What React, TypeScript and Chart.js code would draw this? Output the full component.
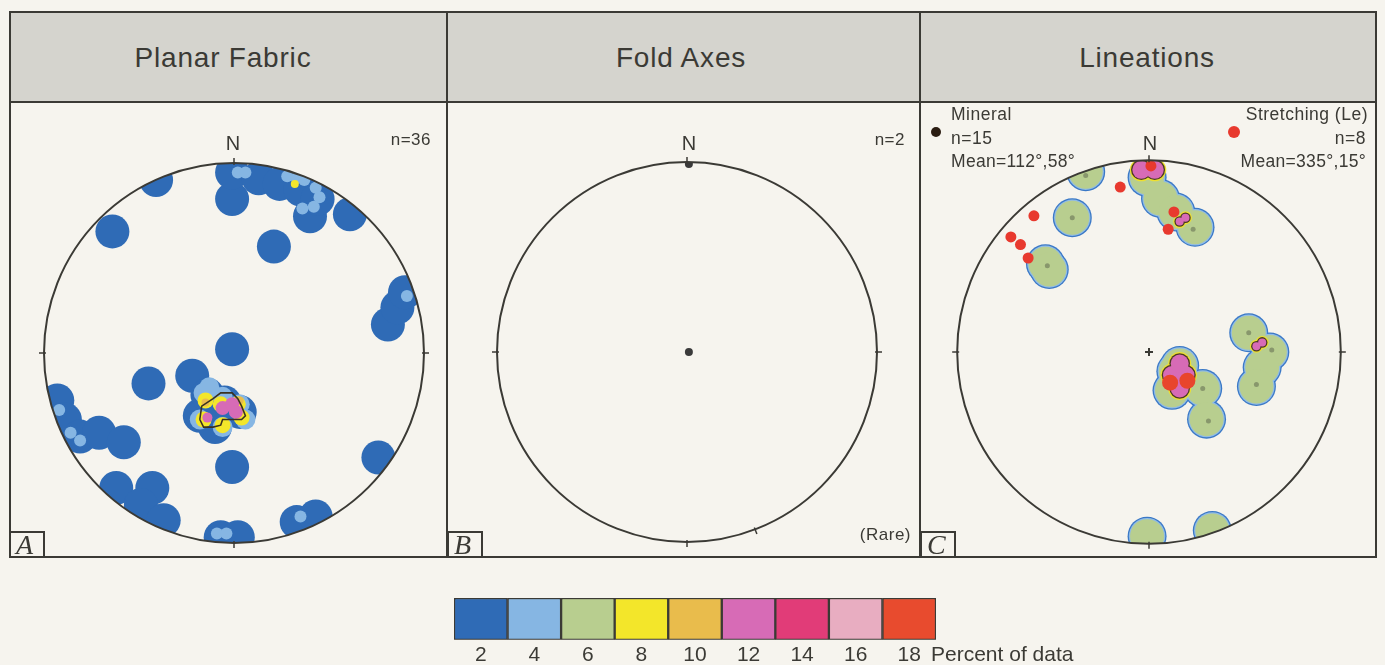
import React, { useEffect, useRef } from "react";
import { Chart, registerables } from "chart.js";

Chart.register(...registerables);

type P = [number, number];

// All stereonet positions are in net units: x = East, y = North, primitive circle radius = 1.

// ---------- Panel A: Planar fabric (poles), n = 36 ----------
const A_CONTOUR_2: P[] = [
  [-0.64, 0.64], [0.21, 0.56], [-0.01, 0.02], [-0.45, -0.16], [-0.01, -0.6], [0.76, -0.55],
  [0.81, 0.15], [0.86, 0.24], [0.9, 0.32], [-0.01, 0.81], [-0.01, 0.95], [-0.41, 0.91],
  [0.13, 0.92], [0.24, 0.89], [0.35, 0.86], [0.4, 0.72], [0.44, 0.81], [0.61, 0.73],
  [-0.93, -0.25], [-0.89, -0.35], [-0.81, -0.44], [-0.71, -0.42], [-0.58, -0.47],
  [-0.62, -0.71], [-0.43, -0.71], [-0.49, -0.8], [-0.37, -0.88], [-0.07, -0.97], [0.02, -0.97],
  [0.33, -0.89], [0.43, -0.86], [-0.22, -0.12], [-0.18, -0.33], [-0.05, -0.26], [0.03, -0.31],
  [-0.1, -0.39], [-0.14, -0.22],
];
const A_CONTOUR_4_CORE: P[] = [
  [-0.16, -0.21], [-0.18, -0.35], [-0.06, -0.23], [0.03, -0.27], [0.06, -0.35], [-0.06, -0.39], [-0.13, -0.18],
];
const A_CONTOUR_4_SPOTS: P[] = [
  [0.02, 0.95], [0.06, 0.95], [0.28, 0.93], [0.33, 0.92], [0.37, 0.91], [0.43, 0.87], [0.45, 0.82],
  [0.42, 0.77], [0.36, 0.76], [0.91, 0.3], [-0.92, -0.3], [-0.86, -0.42], [-0.81, -0.46],
  [-0.09, -0.95], [-0.04, -0.95], [0.35, -0.86],
];
const A_CONTOUR_8: P[] = [
  [-0.15, -0.25], [-0.16, -0.35], [-0.07, -0.27], [0.02, -0.27], [0.04, -0.34], [-0.06, -0.38],
];
const A_CONTOUR_8_SPOT: P[] = [[0.32, 0.89]];
const A_CONTOUR_10: P[] = [[-0.15, -0.26], [0.03, -0.25]];
const A_CONTOUR_12: P[] = [[-0.06, -0.29], [-0.01, -0.27], [0.01, -0.31]];
const A_CONTOUR_12_SPOT: P[] = [[-0.14, -0.34]];
const A_CONTOUR_LINE: P[] = [
  [-0.18, -0.35], [-0.17, -0.28], [-0.11, -0.24], [-0.07, -0.21], [-0.01, -0.21], [0.02, -0.24],
  [0.04, -0.28], [0.06, -0.33], [0.04, -0.35], [-0.06, -0.35], [-0.07, -0.38], [-0.11, -0.39],
  [-0.16, -0.39], [-0.18, -0.35],
];

// ---------- Panel B: Fold axes, n = 2 ----------
const B_AXES: P[] = [[0.01, 0.0], [0.01, 0.99]];

// ---------- Panel C: Lineations ----------
const C_CONTOUR_6: P[] = [
  [-0.33, 0.94], [-0.4, 0.7], [-0.54, 0.46], [-0.52, 0.43], [-0.01, 0.91], [0.06, 0.8],
  [0.14, 0.73], [0.24, 0.65], [0.52, 0.1], [0.63, 0.0], [0.59, -0.08], [0.56, -0.18],
  [0.14, -0.1], [0.16, -0.07], [0.12, -0.2], [0.28, -0.19], [0.3, -0.35], [-0.01, -0.96], [0.33, -0.93],
];
const C_MINERAL: P[] = [
  [-0.33, 0.92], [-0.4, 0.7], [-0.53, 0.45], [0.01, 0.91], [0.23, 0.64], [0.52, 0.1],
  [0.64, 0.01], [0.56, -0.17], [0.15, -0.1], [0.28, -0.19], [0.31, -0.36],
];
const C_CONTOUR_12: P[] = [[-0.04, 0.95], [0.03, 0.95], [0.12, -0.12], [0.19, -0.12], [0.16, -0.06], [0.16, -0.19]];
const C_CONTOUR_12_SPOTS: P[] = [[0.16, 0.68], [0.19, 0.7], [0.56, 0.03], [0.59, 0.05]];
const C_CONTOUR_18: P[] = [[0.11, -0.16], [0.2, -0.15]];
const C_STRETCHING: P[] = [
  [0.01, 0.97], [-0.15, 0.86], [0.13, 0.73], [0.1, 0.64], [-0.6, 0.71], [-0.72, 0.6], [-0.67, 0.56], [-0.63, 0.49],
];
const C_CENTRE: P[] = [[0, 0]];

// ---------- ticks on the primitive (azimuth, degrees) ----------
const TICKS_STD = [0, 90, 180, 270];
const TICKS_B = [0, 90, 180, 270, 159];

// ---------- legend ----------
const LEGEND_LEVELS = ["2", "4", "6", "8", "10", "12", "14", "16", "18"];
const LEGEND_SWATCH = [1, 1, 1, 1, 1, 1, 1, 1, 1];

// ---------- styles ----------
const INK = "#3b3a35";
const SANS = '"Liberation Sans", Arial, sans-serif';
const SERIF = '"Liberation Serif", "Times New Roman", serif';
const COL = {
  c2: "#2f6bb6",
  c4: "#86b6e3",
  c6: "#b8ce8f",
  c8: "#f3e62a",
  c10: "#e9bc4c",
  c12: "#d76bb6",
  c14: "#e13c78",
  c16: "#e8adc1",
  c18: "#e84b2e",
};
const LEGEND_COLORS = [COL.c2, COL.c4, COL.c6, COL.c8, COL.c10, COL.c12, COL.c14, COL.c16, COL.c18];

const xy = (arr: P[]) => arr.map(([x, y]) => ({ x, y }));

const pts = (arr: P[], color: string, radius: number, extra: any = {}) => ({
  data: xy(arr),
  showLine: false,
  pointRadius: radius,
  pointHoverRadius: radius,
  pointBackgroundColor: color,
  pointBorderColor: color,
  pointBorderWidth: 0,
  ...extra,
});

const netPlugin = {
  id: "stereonet",
  beforeDatasetsDraw(chart: any) {
    const { ctx } = chart;
    const sx = chart.scales.x, sy = chart.scales.y;
    const cx = sx.getPixelForValue(0), cy = sy.getPixelForValue(0);
    const r = sx.getPixelForValue(1) - cx;
    ctx.save();
    ctx.beginPath();
    ctx.arc(cx, cy, r, 0, Math.PI * 2);
    ctx.clip();
  },
  afterDatasetsDraw(chart: any, _a: any, opts: any) {
    const { ctx } = chart;
    ctx.restore();
    const sx = chart.scales.x, sy = chart.scales.y;
    const cx = sx.getPixelForValue(0), cy = sy.getPixelForValue(0);
    const r = sx.getPixelForValue(1) - cx;
    ctx.save();
    ctx.strokeStyle = INK;
    ctx.lineWidth = 2;
    ctx.beginPath();
    ctx.arc(cx, cy, r, 0, Math.PI * 2);
    ctx.stroke();
    ctx.lineWidth = 1.5;
    for (const az of opts.ticks || []) {
      const s = Math.sin((az * Math.PI) / 180), c = Math.cos((az * Math.PI) / 180);
      ctx.beginPath();
      ctx.moveTo(cx + s * (r - 2), cy - c * (r - 2));
      ctx.lineTo(cx + s * (r + 5), cy - c * (r + 5));
      ctx.stroke();
    }
    ctx.restore();
  },
};

function Net({ cx, cy, radius, datasets, ticks }: { cx: number; cy: number; radius: number; datasets: any[]; ticks: number[] }) {
  const ref = useRef<HTMLCanvasElement>(null);
  const RANGE = 1.1;
  const size = Math.round(2 * radius * RANGE);
  useEffect(() => {
    const ordered = datasets.map((d, i) => ({ ...d, order: datasets.length - i }));
    const chart = new Chart(ref.current as HTMLCanvasElement, {
      type: "scatter",
      data: { datasets: ordered },
      options: {
        animation: false,
        responsive: false,
        maintainAspectRatio: false,
        events: [],
        layout: { padding: 0, autoPadding: false },
        plugins: { legend: { display: false }, tooltip: { enabled: false }, stereonet: { ticks } } as any,
        scales: {
          x: { type: "linear", min: -RANGE, max: RANGE, display: false },
          y: { type: "linear", min: -RANGE, max: RANGE, display: false },
        },
      },
      plugins: [netPlugin as any],
    });
    return () => chart.destroy();
  }, []);
  return (
    <canvas
      ref={ref}
      width={size}
      height={size}
      style={{ position: "absolute", left: cx - size / 2, top: cy - size / 2, width: size, height: size }}
    />
  );
}

function LegendBar() {
  const ref = useRef<HTMLCanvasElement>(null);
  useEffect(() => {
    const chart = new Chart(ref.current as HTMLCanvasElement, {
      type: "bar",
      data: {
        labels: LEGEND_LEVELS,
        datasets: [
          {
            data: LEGEND_SWATCH,
            backgroundColor: LEGEND_COLORS,
            borderColor: INK,
            borderWidth: 1.5,
            borderSkipped: false,
            barPercentage: 1,
            categoryPercentage: 1,
          } as any,
        ],
      },
      options: {
        animation: false,
        responsive: false,
        maintainAspectRatio: false,
        events: [],
        layout: { padding: { top: 2, left: 0, right: 0, bottom: 0 }, autoPadding: false },
        plugins: { legend: { display: false }, tooltip: { enabled: false } },
        scales: {
          x: {
            grid: { display: false, drawTicks: false },
            border: { display: false },
            ticks: { color: INK, font: { family: SANS, size: 21 }, padding: 3, maxRotation: 0, autoSkip: false },
          },
          y: { display: false, min: 0, max: 1 },
        },
      },
    });
    return () => chart.destroy();
  }, []);
  return <canvas ref={ref} width={482} height={75} style={{ position: "absolute", left: 454, top: 596, width: 482, height: 75 }} />;
}

function Txt({ x, y, size, align = "left", children, style = {} }: any) {
  const W = 700;
  const left = align === "left" ? x : align === "center" ? x - W / 2 : x - W;
  return (
    <div
      style={{
        position: "absolute",
        left,
        top: y - 0.8465 * size,
        width: W,
        textAlign: align,
        fontSize: size,
        lineHeight: `${size}px`,
        whiteSpace: "nowrap",
        ...style,
      }}
    >
      {children}
    </div>
  );
}

function CornerLabel({ left, letter }: { left: number; letter: string }) {
  return (
    <div
      style={{
        position: "absolute",
        left,
        top: 531,
        width: 36,
        height: 27,
        boxSizing: "border-box",
        border: `2px solid ${INK}`,
        fontFamily: SERIF,
        fontStyle: "italic",
        fontSize: 28,
        lineHeight: "24px",
        paddingLeft: 5,
        color: INK,
      }}
    >
      {letter}
    </div>
  );
}

const Dot = ({ x, y, r, color }: any) => (
  <div style={{ position: "absolute", left: x - r, top: y - r, width: 2 * r, height: 2 * r, borderRadius: "50%", background: color }} />
);

export default function App() {
  const datasetsA = [
    pts(A_CONTOUR_2, COL.c2, 17),
    pts(A_CONTOUR_4_CORE, COL.c4, 10),
    pts(A_CONTOUR_4_SPOTS, COL.c4, 6),
    pts(A_CONTOUR_8, COL.c8, 8),
    pts(A_CONTOUR_8_SPOT, COL.c8, 4),
    pts(A_CONTOUR_10, COL.c10, 4),
    pts(A_CONTOUR_12, COL.c12, 7),
    pts(A_CONTOUR_12_SPOT, COL.c12, 5),
    {
      data: xy(A_CONTOUR_LINE),
      showLine: true,
      borderColor: "#3a3220",
      borderWidth: 1.6,
      pointRadius: 0,
      fill: false,
      tension: 0,
    },
  ];
  const datasetsB = [pts(B_AXES, "#3a3a3a", 4)];
  const datasetsC = [
    pts(C_CONTOUR_6, "#3a78c6", 19.5),
    pts(C_CONTOUR_6, "#8fbbe6", 18.2),
    pts(C_CONTOUR_6, COL.c6, 17),
    pts(C_MINERAL, "rgba(120,132,96,0.75)", 2.5),
    pts(C_CONTOUR_12, "#eee030", 11.5),
    pts(C_CONTOUR_12, "#4a3b22", 10.3),
    pts(C_CONTOUR_12, COL.c12, 9),
    pts(C_CONTOUR_12_SPOTS, "#eee030", 6.5),
    pts(C_CONTOUR_12_SPOTS, "#4a3b22", 5.3),
    pts(C_CONTOUR_12_SPOTS, COL.c12, 4),
    pts(C_CONTOUR_18, "#e8452c", 8),
    pts(C_CENTRE, INK, 4, { pointStyle: "cross", pointBorderWidth: 2 }),
    pts(C_STRETCHING, "#e8392e", 5.5),
  ];

  return (
    <div
      style={{
        position: "absolute",
        left: 0,
        top: 0,
        width: 1385,
        height: 665,
        overflow: "hidden",
        background: "#f6f4ee",
        color: INK,
        fontFamily: SANS,
      }}
    >
      {/* header band and frame */}
      <div style={{ position: "absolute", left: 9, top: 11, width: 1368, height: 91, background: "#d5d4ce" }} />
      <div style={{ position: "absolute", left: 9, top: 11, width: 1368, height: 547, boxSizing: "border-box", border: `2px solid ${INK}` }} />
      <div style={{ position: "absolute", left: 9, top: 101, width: 1368, height: 2, background: INK }} />
      <div style={{ position: "absolute", left: 446, top: 11, width: 2, height: 547, background: INK }} />
      <div style={{ position: "absolute", left: 919, top: 11, width: 2, height: 547, background: INK }} />

      <Txt x={223} y={68} size={28} align="center" style={{ letterSpacing: 0.8 }}>Planar Fabric</Txt>
      <Txt x={681} y={68} size={28} align="center" style={{ letterSpacing: 0.8 }}>Fold Axes</Txt>
      <Txt x={1147} y={68} size={28} align="center" style={{ letterSpacing: 0.8 }}>Lineations</Txt>

      <Net cx={234} cy={353} radius={190} datasets={datasetsA} ticks={TICKS_STD} />
      <Net cx={687} cy={352} radius={190} datasets={datasetsB} ticks={TICKS_B} />
      <Net cx={1149} cy={352} radius={192} datasets={datasetsC} ticks={TICKS_STD} />

      {/* panel A text */}
      <Txt x={233} y={150} size={20} align="center">N</Txt>
      <Txt x={431} y={145} size={17} align="right" style={{ letterSpacing: 0.5 }}>n=36</Txt>

      {/* panel B text */}
      <Txt x={689} y={150} size={20} align="center">N</Txt>
      <Txt x={905} y={145} size={17} align="right" style={{ letterSpacing: 0.5 }}>n=2</Txt>
      <Txt x={911} y={540} size={17} align="right" style={{ letterSpacing: 0.5 }}>(Rare)</Txt>

      {/* panel C text */}
      <Txt x={1150} y={150} size={20} align="center">N</Txt>
      <Dot x={936} y={132} r={5} color="#2b1d12" />
      <Txt x={951} y={121} size={17.5} style={{ letterSpacing: 0.5 }}>Mineral</Txt>
      <Txt x={951} y={145} size={17.5} style={{ letterSpacing: 0.5 }}>n=15</Txt>
      <Txt x={951} y={168} size={17.5} style={{ letterSpacing: 0.3 }}>Mean=112°,58°</Txt>
      <Dot x={1234} y={132} r={6} color="#e8392e" />
      <Txt x={1368} y={121} size={17.5} align="right" style={{ letterSpacing: 0.5 }}>Stretching (Le)</Txt>
      <Txt x={1366} y={145} size={17.5} align="right" style={{ letterSpacing: 0.5 }}>n=8</Txt>
      <Txt x={1366} y={168} size={17.5} align="right" style={{ letterSpacing: 0.3 }}>Mean=335°,15°</Txt>

      <CornerLabel left={9} letter="A" />
      <CornerLabel left={447} letter="B" />
      <CornerLabel left={920} letter="C" />

      <LegendBar />
      <Txt x={931} y={661} size={21}>Percent of data</Txt>
    </div>
  );
}
